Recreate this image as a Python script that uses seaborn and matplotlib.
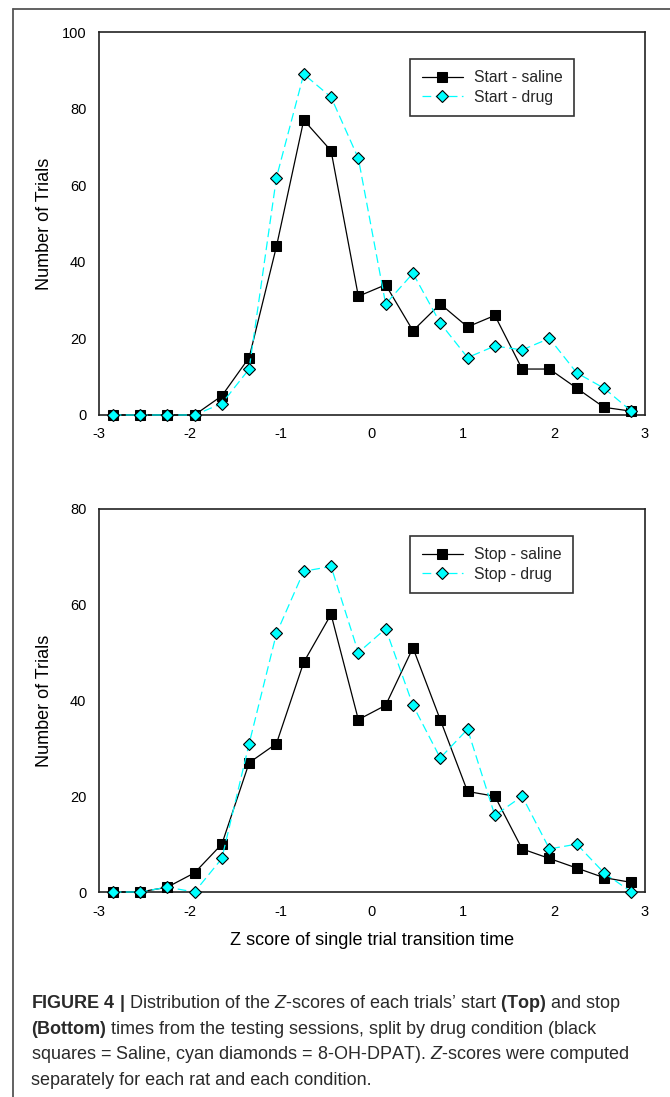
import matplotlib
matplotlib.use("Agg")
import matplotlib.pyplot as plt
import seaborn as sns
from matplotlib.lines import Line2D

# ---------------- data ----------------
z_bins = [-2.85, -2.55, -2.25, -1.95, -1.65, -1.35, -1.05, -0.75, -0.45, -0.15,
          0.15, 0.45, 0.75, 1.05, 1.35, 1.65, 1.95, 2.25, 2.55, 2.85]
start_saline = [0, 0, 0, 0, 5, 15, 44, 77, 69, 31, 34, 22, 29, 23, 26, 12, 12, 7, 2, 1]
start_drug = [0, 0, 0, 0, 3, 12, 62, 89, 83, 67, 29, 37, 24, 15, 18, 17, 20, 11, 7, 1]
stop_saline = [0, 0, 1, 4, 10, 27, 31, 48, 58, 36, 39, 51, 36, 21, 20, 9, 7, 5, 3, 2]
stop_drug = [0, 0, 1, 0, 7, 31, 54, 67, 68, 50, 55, 39, 28, 34, 16, 20, 9, 10, 4, 0]
x_ticks = [-3, -2, -1, 0, 1, 2, 3]
top_y_ticks = [0, 20, 40, 60, 80, 100]
bottom_y_ticks = [0, 20, 40, 60, 80]
top_labels = ["Start - saline", "Start - drug"]
bottom_labels = ["Stop - saline", "Stop - drug"]
y_label = "Number of Trials"
x_label = "Z score of single trial transition time"
caption_lines = [
    r"$\mathbf{FIGURE\ 4\ |}$ Distribution of the $\mathit{Z}$-scores of each trials’ start $\mathbf{(Top)}$ and stop",
    r"$\mathbf{(Bottom)}$ times from the testing sessions, split by drug condition (black",
    r"squares = Saline, cyan diamonds = 8-OH-DPAT). $\mathit{Z}$-scores were computed",
    "separately for each rat and each condition.",
]

# ---------------- style ----------------
sns.set_style("white")
plt.rcParams.update({
    "axes.unicode_minus": False,
    "mathtext.fontset": "custom",
    "mathtext.rm": "Liberation Sans",
    "mathtext.it": "Liberation Sans:italic",
    "mathtext.bf": "Liberation Sans:bold",
})
plt.rcParams["font.family"] = ["Liberation Sans", "DejaVu Sans"]

W, H = 670, 1097
fig = plt.figure(figsize=(W / 100, H / 100), dpi=100)
fig.patch.set_facecolor("white")

ax1 = fig.add_axes([99 / W, 1 - 415 / H, 546 / W, 383 / H])
ax2 = fig.add_axes([99 / W, 1 - 892 / H, 546 / W, 383 / H])

CYAN = "#00FFFF"


def panel(ax, sal, drug, labels, ymax, yticks):
    sns.lineplot(x=z_bins, y=sal, ax=ax, color="black", marker="s", markersize=6.8,
                 markerfacecolor="black", markeredgecolor="black", linewidth=0.9,
                 label=labels[0], errorbar=None, clip_on=False, zorder=3)
    sns.lineplot(x=z_bins, y=drug, ax=ax, color=CYAN, marker="D", markersize=6.0,
                 markerfacecolor=CYAN, markeredgecolor="black", markeredgewidth=0.8,
                 linewidth=0.9, linestyle=(0, (7, 3.5)),
                 label=labels[1], errorbar=None, clip_on=False, zorder=4)
    ax.set_xlim(-3, 3)
    ax.set_ylim(0, ymax)
    ax.set_xticks(x_ticks)
    ax.set_xticklabels([str(t) for t in x_ticks])
    ax.set_yticks(yticks)
    ax.set_yticklabels([str(t) for t in yticks])
    ax.tick_params(direction="out", length=5, width=1.0, color="#222222",
                   labelsize=10.5, labelcolor="black", pad=4)
    for s in ax.spines.values():
        s.set_visible(True)
        s.set_color("#222222")
        s.set_linewidth(1.2)
    ax.set_ylabel(y_label, fontsize=13, color="black")
    ax.yaxis.set_label_coords(-0.085, 0.5)
    ax.set_xlabel("")
    leg = ax.legend(loc="upper left", bbox_to_anchor=(0.570, 0.930), borderaxespad=0,
                    frameon=True, fancybox=False, edgecolor="#333333", fontsize=11.3,
                    handlelength=2.65, handletextpad=0.7, borderpad=0.72,
                    labelspacing=0.3, framealpha=1)
    leg.get_frame().set_linewidth(1.2)


panel(ax1, start_saline, start_drug, top_labels, 100, top_y_ticks)
panel(ax2, stop_saline, stop_drug, bottom_labels, 80, bottom_y_ticks)
ax2.set_xlabel(x_label, fontsize=13, color="black")
ax2.xaxis.set_label_coords(0.5, -0.105)

# figure frame (left and top border)
fig.add_artist(Line2D([13 / W, 13 / W], [0, 1 - 9 / H], transform=fig.transFigure,
                      color="#555555", linewidth=1.3))
fig.add_artist(Line2D([13 / W, 1], [1 - 9 / H, 1 - 9 / H], transform=fig.transFigure,
                      color="#555555", linewidth=1.3))

# caption
baselines = [1008, 1034, 1059, 1085]
texts = []
for line, yb in zip(caption_lines, baselines):
    t = fig.text(31 / W, 1 - yb / H, line, fontsize=12, color="#2a2a2a",
                 ha="left", va="baseline")
    texts.append(t)
fig.canvas.draw()
w3 = texts[2].get_window_extent().width
fs = 12 * 599 / w3
for t in texts:
    t.set_fontsize(fs)

fig.savefig("out.png", dpi=100, facecolor="white")
